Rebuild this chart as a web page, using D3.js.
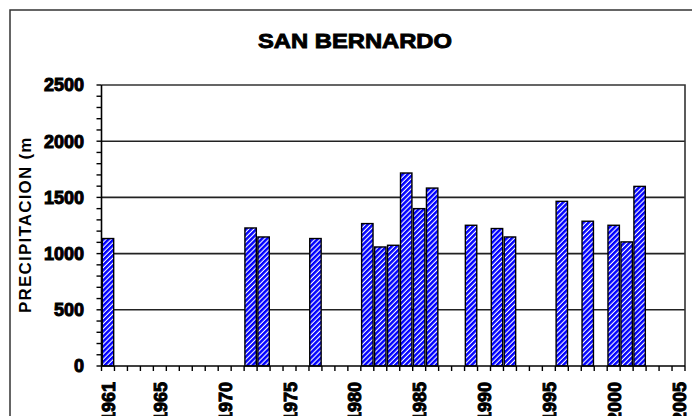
<!DOCTYPE html>
<html>
<head>
<meta charset="utf-8">
<script src="https://cdn.jsdelivr.net/npm/d3@7/dist/d3.min.js"></script>
<style>
  html, body { margin: 0; padding: 0; background: #fff; }
  svg { display: block; }
  text { font-family: "Liberation Sans", Arial, sans-serif; font-weight: bold; fill: #000; }
</style>
</head>
<body>
<svg id="chart" width="692" height="416"></svg>
<script>
// ---- data ----
const categories = [1961,1962,1963,1964,1965,1966,1967,1968,1969,1970,1971,1972,1973,1974,1975,
  1976,1977,1978,1979,1980,1981,1982,1983,1984,1985,1986,1987,1988,1989,1990,1991,1992,1993,1994,
  1995,1996,1997,1998,1999,2000,2001,2002,2003,2004,2005];
const barYears  = [1961, 1972, 1973, 1977, 1981, 1982, 1983, 1984, 1985, 1986, 1989, 1991, 1992, 1996, 1998, 2000, 2001, 2002];
const barValues = [1134, 1228, 1148, 1134, 1267, 1059, 1074, 1717, 1400, 1583, 1252, 1223, 1148, 1465, 1288, 1252, 1104, 1598];
const xTickLabels = [1961, 1965, 1970, 1975, 1980, 1985, 1990, 1995, 2000, 2005];
const yTicks = [0, 500, 1000, 1500, 2000, 2500];
const yMinorTicks = d3.range(0, 2501, 100);
const titleText = "SAN BERNARDO";
const yTitle = "PRECIPITACION (mm)";

// ---- layout ----
const svg = d3.select("#chart");
const plot = { left: 101.5, right: 685, top: 85, bottom: 366 };

const x = d3.scaleBand().domain(categories).range([plot.left, plot.right]).paddingInner(0.12).paddingOuter(0.06);
const xb = d3.scaleBand().domain(categories).range([plot.left, plot.right]).padding(0);
const y = d3.scaleLinear().domain([0, 2500]).range([plot.bottom, plot.top]);

// pattern
const defs = svg.append("defs");
const pat = defs.append("pattern").attr("id", "stripes").attr("patternUnits", "userSpaceOnUse")
  .attr("width", 3.6).attr("height", 3.6).attr("patternTransform", "rotate(45)");
pat.append("rect").attr("width", 3.6).attr("height", 3.6).attr("fill", "#ffffff");
pat.append("rect").attr("width", 2.5).attr("height", 3.6).attr("fill", "#0000ff");

defs.append("clipPath").attr("id", "ytclip").append("rect")
  .attr("x", 0).attr("y", 138).attr("width", 60).attr("height", 300);

// outer frame
svg.append("rect").attr("x", 10).attr("y", 10).attr("width", 700).attr("height", 430)
  .attr("fill", "none").attr("stroke", "#333").attr("stroke-width", 1.5);

// title
svg.append("text").attr("x", 355).attr("y", 48).attr("text-anchor", "middle")
  .attr("font-size", 21).attr("textLength", 194).attr("lengthAdjust", "spacingAndGlyphs")
  .attr("stroke", "#000").attr("stroke-width", 0.9)
  .text(titleText);

// gridlines
svg.append("g").selectAll("line").data(yTicks.filter(d => d > 0 && d < 2500)).join("line")
  .attr("x1", plot.left).attr("x2", plot.right)
  .attr("y1", d => y(d)).attr("y2", d => y(d))
  .attr("stroke", "#222").attr("stroke-width", 1.6);

// plot border (top & right)
svg.append("path")
  .attr("d", `M${plot.left},${plot.top}H${plot.right}V${plot.bottom}`)
  .attr("fill", "none").attr("stroke", "#333").attr("stroke-width", 1.6);

// bars
svg.append("g").selectAll("rect").data(barYears.map((yr, i) => ({ yr, v: barValues[i] }))).join("rect")
  .attr("x", d => x(d.yr)).attr("width", x.bandwidth())
  .attr("y", d => y(d.v)).attr("height", d => y(0) - y(d.v))
  .attr("fill", "url(#stripes)").attr("stroke", "#000").attr("stroke-width", 1.4);

// y axis
const yAxis = svg.append("g");
yAxis.append("line").attr("x1", plot.left).attr("x2", plot.left)
  .attr("y1", plot.top).attr("y2", plot.bottom).attr("stroke", "#000").attr("stroke-width", 1.6);
yAxis.selectAll("line.minor").data(yMinorTicks).join("line").attr("class", "minor")
  .attr("x1", plot.left - 5).attr("x2", plot.left)
  .attr("y1", d => y(d)).attr("y2", d => y(d))
  .attr("stroke", "#000").attr("stroke-width", 1.4);
yAxis.selectAll("text").data(yTicks).join("text")
  .attr("x", 84).attr("y", d => y(d)).attr("dy", "0.36em")
  .attr("text-anchor", "end").attr("font-size", 18)
  .attr("stroke", "#000").attr("stroke-width", 1)
  .text(d => d);

// x axis
const xAxis = svg.append("g");
xAxis.append("line").attr("x1", plot.left).attr("x2", plot.right)
  .attr("y1", plot.bottom).attr("y2", plot.bottom).attr("stroke", "#000").attr("stroke-width", 1.6);
const tickPos = categories.map(c => xb(c)).concat([xb(categories[categories.length - 1]) + xb.bandwidth()]);
xAxis.selectAll("line.tick").data(tickPos).join("line").attr("class", "tick")
  .attr("x1", d => d).attr("x2", d => d)
  .attr("y1", plot.bottom).attr("y2", plot.bottom + 5)
  .attr("stroke", "#000").attr("stroke-width", 1.4);
xAxis.selectAll("text").data(xTickLabels).join("text")
  .attr("transform", d => `translate(${xb(d) + xb.bandwidth() / 2 + 0.5},382) rotate(-90)`)
  .attr("dy", "0.36em").attr("text-anchor", "end").attr("font-size", 18)
  .attr("stroke", "#000").attr("stroke-width", 1)
  .text(d => d);

// y title
svg.append("g").attr("clip-path", "url(#ytclip)")
  .append("text")
  .attr("transform", "translate(25,313) rotate(-90)")
  .attr("dy", "0.36em").attr("text-anchor", "start").attr("font-size", 17)
  .attr("letter-spacing", 1.2)
  .text(yTitle);
</script>
</body>
</html>
